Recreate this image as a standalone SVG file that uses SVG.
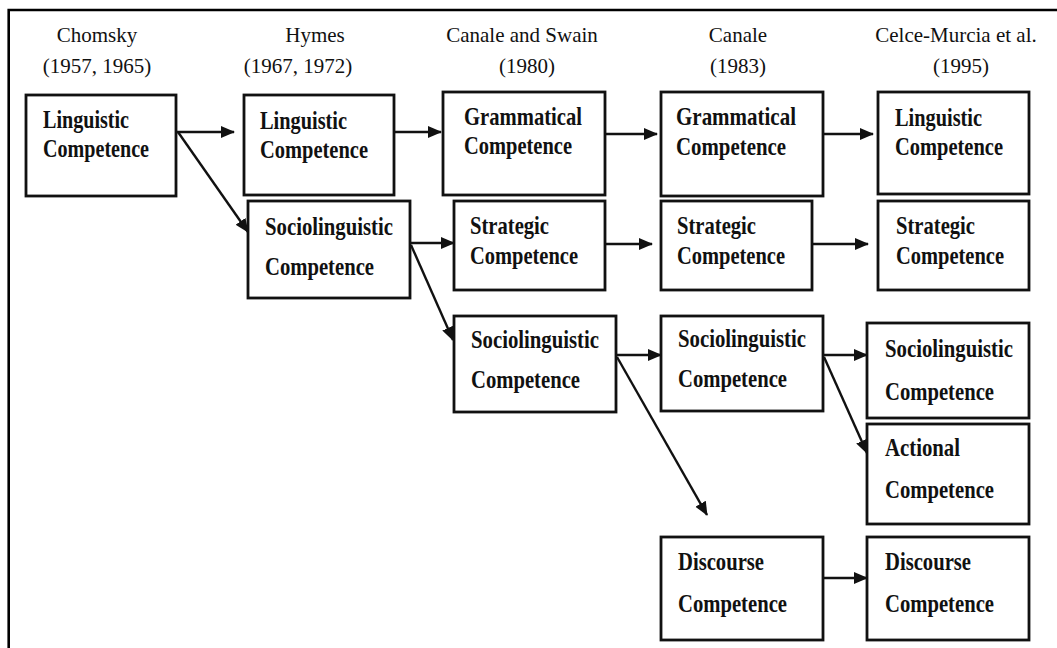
<svg xmlns="http://www.w3.org/2000/svg" width="1057" height="648" viewBox="0 0 1057 648">
<defs>
<style>
.hdr{font-family:"Liberation Serif","Times New Roman",serif;font-size:21px;fill:#111;text-anchor:middle}
.lbl{font-family:"Liberation Serif","Times New Roman",serif;font-size:25px;font-weight:bold;fill:#111}
.box{fill:#fff;stroke:#111;stroke-width:2.8}
.con{stroke:#111;stroke-width:2.4;fill:none;marker-end:url(#ah)}
</style>
<marker id="ah" markerUnits="userSpaceOnUse" markerWidth="15" markerHeight="13" refX="13" refY="6" orient="auto">
<path d="M0,0 L14,6 L0,12 z" fill="#111"/>
</marker>
</defs>
<rect width="1057" height="648" fill="#fff"/>
<path id="frame" d="M8.7,648 V10 H1057" fill="none" stroke="#000" stroke-width="2.6"/>

<g id="headers">
<text class="hdr" x="97" y="42">Chomsky</text>
<text class="hdr" x="97" y="73">(1957, 1965)</text>
<text class="hdr" x="315" y="42">Hymes</text>
<text class="hdr" x="298" y="73">(1967, 1972)</text>
<text class="hdr" x="522" y="42">Canale and Swain</text>
<text class="hdr" x="527" y="73">(1980)</text>
<text class="hdr" x="738" y="42">Canale</text>
<text class="hdr" x="738" y="73">(1983)</text>
<text class="hdr" x="956" y="42">Celce-Murcia et al.</text>
<text class="hdr" x="961" y="73">(1995)</text>
</g>

<g id="chomsky-linguistic">
<rect class="box" x="26" y="95" width="150" height="101"/>
<text class="lbl" x="43" y="128" textLength="86" lengthAdjust="spacingAndGlyphs">Linguistic</text>
<text class="lbl" x="43" y="157" textLength="106" lengthAdjust="spacingAndGlyphs">Competence</text>
</g>

<g id="hymes-linguistic">
<rect class="box" x="244" y="95" width="150" height="100"/>
<text class="lbl" x="260" y="129" textLength="87" lengthAdjust="spacingAndGlyphs">Linguistic</text>
<text class="lbl" x="260" y="158" textLength="108" lengthAdjust="spacingAndGlyphs">Competence</text>
</g>
<g id="hymes-sociolinguistic">
<rect class="box" x="248" y="201" width="162" height="97"/>
<text class="lbl" x="265" y="235" textLength="128" lengthAdjust="spacingAndGlyphs">Sociolinguistic</text>
<text class="lbl" x="265" y="275" textLength="109" lengthAdjust="spacingAndGlyphs">Competence</text>
</g>

<g id="cs-grammatical">
<rect class="box" x="443" y="92" width="162" height="103"/>
<text class="lbl" x="464" y="125" textLength="118" lengthAdjust="spacingAndGlyphs">Grammatical</text>
<text class="lbl" x="464" y="154" textLength="108" lengthAdjust="spacingAndGlyphs">Competence</text>
</g>
<g id="cs-strategic">
<rect class="box" x="454" y="201" width="151" height="89"/>
<text class="lbl" x="470" y="234" textLength="79" lengthAdjust="spacingAndGlyphs">Strategic</text>
<text class="lbl" x="470" y="264" textLength="108" lengthAdjust="spacingAndGlyphs">Competence</text>
</g>
<g id="cs-sociolinguistic">
<rect class="box" x="454" y="316" width="162" height="96"/>
<text class="lbl" x="471" y="348" textLength="128" lengthAdjust="spacingAndGlyphs">Sociolinguistic</text>
<text class="lbl" x="471" y="388" textLength="109" lengthAdjust="spacingAndGlyphs">Competence</text>
</g>

<g id="canale-grammatical">
<rect class="box" x="661" y="92" width="162" height="104"/>
<text class="lbl" x="676" y="125" textLength="120" lengthAdjust="spacingAndGlyphs">Grammatical</text>
<text class="lbl" x="676" y="155" textLength="110" lengthAdjust="spacingAndGlyphs">Competence</text>
</g>
<g id="canale-strategic">
<rect class="box" x="661" y="201" width="151" height="89"/>
<text class="lbl" x="677" y="234" textLength="79" lengthAdjust="spacingAndGlyphs">Strategic</text>
<text class="lbl" x="677" y="264" textLength="108" lengthAdjust="spacingAndGlyphs">Competence</text>
</g>
<g id="canale-sociolinguistic">
<rect class="box" x="661" y="316" width="162" height="95"/>
<text class="lbl" x="678" y="347" textLength="128" lengthAdjust="spacingAndGlyphs">Sociolinguistic</text>
<text class="lbl" x="678" y="387" textLength="109" lengthAdjust="spacingAndGlyphs">Competence</text>
</g>
<g id="canale-discourse">
<rect class="box" x="661" y="537" width="162" height="103"/>
<text class="lbl" x="678" y="570" textLength="86" lengthAdjust="spacingAndGlyphs">Discourse</text>
<text class="lbl" x="678" y="612" textLength="109" lengthAdjust="spacingAndGlyphs">Competence</text>
</g>

<g id="celce-linguistic">
<rect class="box" x="878" y="92" width="151" height="102"/>
<text class="lbl" x="895" y="126" textLength="87" lengthAdjust="spacingAndGlyphs">Linguistic</text>
<text class="lbl" x="895" y="155" textLength="108" lengthAdjust="spacingAndGlyphs">Competence</text>
</g>
<g id="celce-strategic">
<rect class="box" x="878" y="201" width="151" height="89"/>
<text class="lbl" x="896" y="234" textLength="79" lengthAdjust="spacingAndGlyphs">Strategic</text>
<text class="lbl" x="896" y="264" textLength="108" lengthAdjust="spacingAndGlyphs">Competence</text>
</g>
<g id="celce-sociolinguistic">
<rect class="box" x="867" y="323" width="162" height="95"/>
<text class="lbl" x="885" y="357" textLength="128" lengthAdjust="spacingAndGlyphs">Sociolinguistic</text>
<text class="lbl" x="885" y="400" textLength="109" lengthAdjust="spacingAndGlyphs">Competence</text>
</g>
<g id="celce-actional">
<rect class="box" x="867" y="424" width="162" height="100"/>
<text class="lbl" x="885" y="456" textLength="75" lengthAdjust="spacingAndGlyphs">Actional</text>
<text class="lbl" x="885" y="498" textLength="109" lengthAdjust="spacingAndGlyphs">Competence</text>
</g>
<g id="celce-discourse">
<rect class="box" x="867" y="537" width="162" height="103"/>
<text class="lbl" x="885" y="570" textLength="86" lengthAdjust="spacingAndGlyphs">Discourse</text>
<text class="lbl" x="885" y="612" textLength="109" lengthAdjust="spacingAndGlyphs">Competence</text>
</g>

<g id="connectors">
<line class="con" x1="177" y1="132" x2="234" y2="132"/>
<line class="con" x1="178" y1="132" x2="248" y2="232"/>
<line class="con" x1="395" y1="132" x2="441" y2="132"/>
<line class="con" x1="606" y1="134" x2="657" y2="134"/>
<line class="con" x1="824" y1="134" x2="873" y2="134"/>
<line class="con" x1="411" y1="243" x2="454" y2="243"/>
<line class="con" x1="411" y1="245" x2="453" y2="340"/>
<line class="con" x1="606" y1="244" x2="652" y2="244"/>
<line class="con" x1="813" y1="244" x2="868" y2="244"/>
<line class="con" x1="617" y1="355" x2="661" y2="355"/>
<line class="con" x1="617" y1="357" x2="707" y2="515"/>
<line class="con" x1="824" y1="355" x2="867" y2="355"/>
<line class="con" x1="824" y1="357" x2="867" y2="453"/>
<line class="con" x1="824" y1="578" x2="867" y2="578"/>
</g>
</svg>
